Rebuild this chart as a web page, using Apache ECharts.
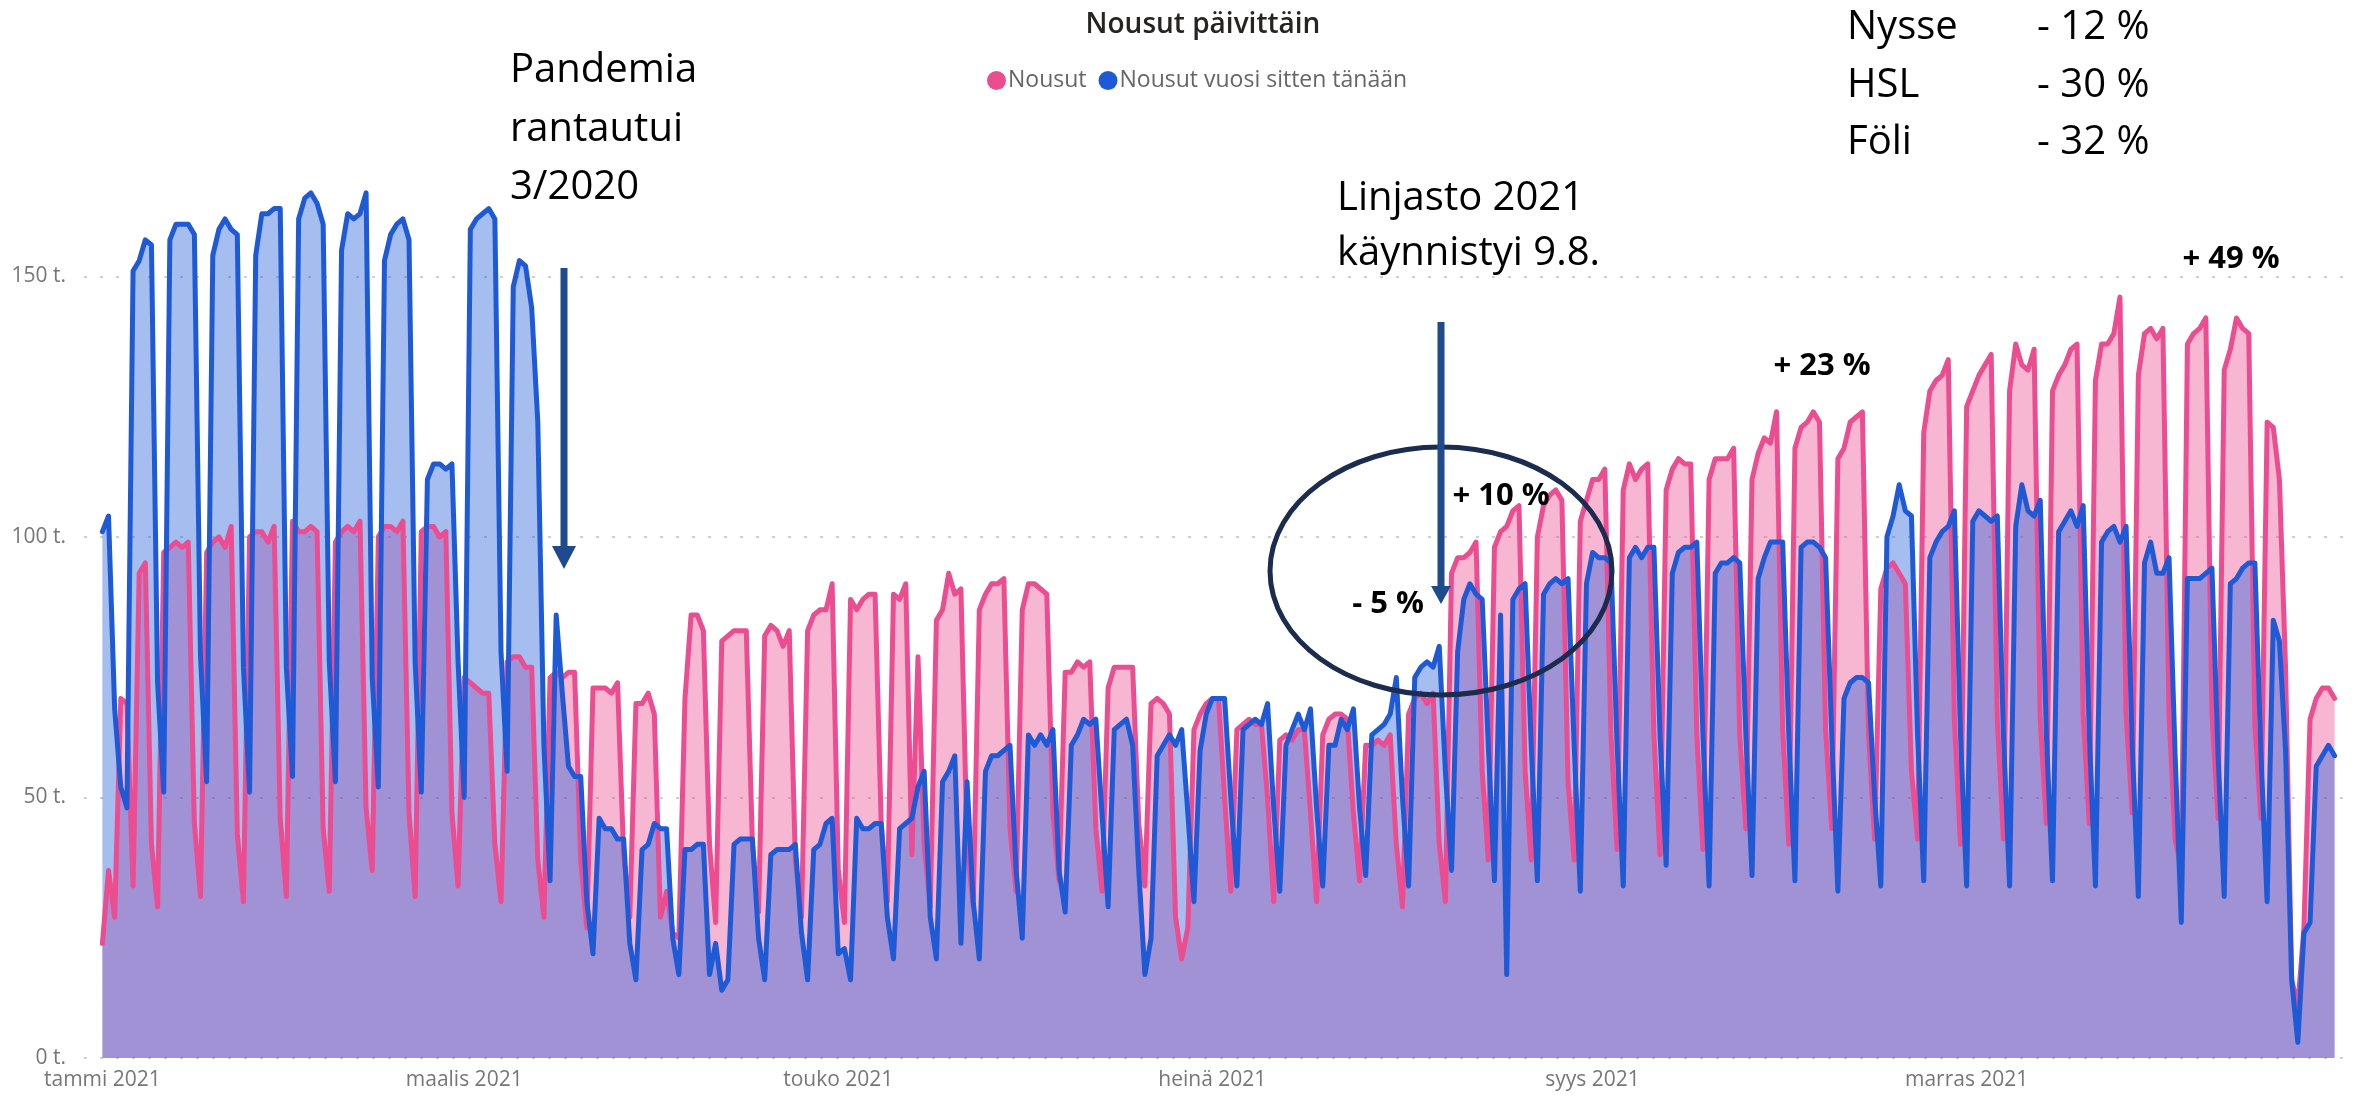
<!DOCTYPE html>
<html>
<head>
<meta charset="utf-8">
<title>Nousut päivittäin</title>
<script src="https://cdn.jsdelivr.net/npm/echarts@6/dist/echarts.min.js"></script>
<style>
  html, body { margin: 0; padding: 0; background: #fff; }
  #chart { width: 2366px; height: 1096px; }
</style>
</head>
<body>
<div id="chart"></div>
<script>
// daily boardings 2021, thousands (one value per day from 1.1.2021)
const nousut = [
  // tammi
  22,36,27,69,68,33,93,95,41,29, 97,98,99,98,99,45,31, 97,99,100,98,102,43,30, 100,101,101,99,102,46,31,
  // helmi
  103,101,101,102,101,44,32, 99,101,102,101,103,48,36, 100,102,102,101,103,47,31, 101,102,102,100,101,47,33,
  // maalis
  73,72,71,70,70,41,30, 76,77,77,75,75,38,27, 73,74,73,74,74,38,25, 71,71,71,70,72,39,27, 68,68,70,
  // huhti
  66,27,32,24,23,69,85,85,82,41,26, 80,81,82,82,82,41,28, 81,83,82,79,82,38,27, 82,85,86,86,91,
  // touko
  36,26,88,86,88,89,89,45,30, 89,88,91,39,77,41,29, 84,86,93,89,90,41,29, 86,89,91,91,92,44,32, 86,
  // kesä
  91,91,90,89,47,34, 74,74,76,75,76,44,32, 71,75,75,75,75,45,33, 68,69,68,66,27,19,25, 63,66,68,
  // heinä
  69,69,50,32, 63,64,65,64,64,50,30, 61,62,61,63,63,47,30, 62,65,66,66,65,47,34, 60,60,61,60,62,41,
  // elo
  29, 66,69,70,68,70,41,30, 93,96,96,97,99,55,38, 98,101,102,105,106,55,38, 100,106,108,109,107,53,38, 103,107,
  // syys
  111,111,113,62,40, 109,114,111,113,114,62,39, 109,113,115,114,114,62,40, 111,115,115,115,117,62,44, 111,116,119,118,
  // loka
  124,63,41, 117,121,122,124,122,63,44, 115,117,122,123,124,62,42, 90,94,95,93,91,55,42, 120,128,130,131,134,65,41,
  // marras
  125,128,131,133,135,65,42, 128,137,133,132,136,65,45, 128,131,133,136,137,66,45, 130,137,137,139,146,66,47, 131,139,
  // joulu
  140,138,140,66,42, 36,137,139,140,142,66,46, 132,136,142,140,139,64,46, 122,121,111,75,15,10,25, 65,69,71,71,69
];

// same day one year earlier, thousands
const vuosiSitten = [
  // tammi
  101,104,67,52,48,151,153,157,156,72,51, 157,160,160,160,158,77,53, 154,159,161,159,158,75,51, 154,162,162,163,163,75,
  // helmi
  54,161,165,166,164,160,76, 53,155,162,161,162,166,73, 52,153,158,160,161,157,76, 51,111,114,114,113,114,76,
  // maalis
  50,159,161,162,163,161,78, 55,148,153,152,144,122,60, 34,85,70,56,54,54,30, 20,46,44,44,42,42,22, 15,40,41,
  // huhti
  45,44,44,23,16, 40,40,41,41,16,22,13, 15,41,42,42,42,23,15, 39,40,40,40,41,24,15, 40,41,45,46,
  // touko
  20,21,15, 46,44,44,45,45,27,19, 44,45,46,52,55,27,19, 53,55,58,22,53,30,19, 55,58,58,59,60,36,23,
  // kesä
  62,60,62,60,63,36,28, 60,62,65,64,65,47,29, 63,64,65,60,36,16,23, 58,60,62,60,63,47,30, 59,66,
  // heinä
  69,69,69,50,33, 63,64,65,64,68,48,32, 60,63,66,63,67,48,33, 60,60,65,63,67,48,35, 62,63,64,66,73,
  // elo
  50,33, 73,75,76,75,79,55,36, 78,88,91,89,88,60,34, 85,16,88,90,91,60,34, 89,91,92,91,92,60,32, 91,
  // syys
  97,96,96,95,60,33, 96,98,96,98,98,62,37, 93,97,98,98,99,62,33, 93,95,95,96,95,62,35, 92,96,99,
  // loka
  99,99,62,34, 98,99,99,98,96,62,32, 69,72,73,73,72,50,33, 100,104,110,105,104,62,34, 96,99,101,102,105,62,
  // marras
  33, 103,105,104,103,104,62,33, 102,110,105,104,107,62,34, 101,103,105,102,106,62,33, 99,101,102,99,102,60,31, 95,
  // joulu
  99,93,93,96,58,26, 92,92,92,93,94,58,31, 91,92,94,95,95,58,30, 84,80,59,15,3,24,26, 56,58,60,58
];

const monthLabels = ['tammi 2021', 'maalis 2021', 'touko 2021', 'heinä 2021', 'syys 2021', 'marras 2021'];
const labelMonths = [0, 2, 4, 6, 8, 10];
const yTicks = [0, 50, 100, 150];

const PINK = '#EC4C90';
const BLUE = '#1F5AD6';
const FONT = '"Open Sans", "Noto Sans", sans-serif';

const day0 = Date.UTC(2021, 0, 1);
const monthStarts = labelMonths.map(m => (Date.UTC(2021, m, 1) - day0) / 864e5);
const pairs = arr => arr.map((v, i) => [i, v]);

const chart = echarts.init(document.getElementById('chart'));

function txt(text, x, y, size, opts) {
  opts = opts || {};
  return {
    type: 'text', z: 110,
    style: {
      text: text, x: x, y: y,
      font: (opts.weight ? opts.weight + ' ' : '') + size + 'px ' + FONT,
      fill: opts.color || '#000',
      textAlign: opts.align || 'left', align: opts.align || 'left',
      textVerticalAlign: 'middle', verticalAlign: 'middle'
    }
  };
}

function arrow(x, y1, y2, head) {
  return [
    { type: 'line', z: 105, shape: { x1: x, y1: y1, x2: x, y2: y2 - head.h + 2 },
      style: { stroke: '#1F4A8C', lineWidth: 7 } },
    { type: 'polygon', z: 105,
      shape: { points: [[x - head.w / 2, y2 - head.h], [x + head.w / 2, y2 - head.h], [x, y2]] },
      style: { fill: '#1F4A8C' } }
  ];
}

const option = {
  animation: false,
  backgroundColor: '#fff',
  legend: {
    left: 982, top: 64,
    itemWidth: 19, itemHeight: 19, itemGap: 12,
    icon: 'circle',
    data: ['Nousut', 'Nousut vuosi sitten tänään'],
    textStyle: { fontFamily: FONT, fontSize: 23, color: '#666', padding: [0, 0, 0, -3] }
  },
  grid: { left: 84, right: 13, top: 146, bottom: 38 },
  xAxis: {
    type: 'value',
    min: -3, max: 367,
    axisLine: { show: false },
    axisTick: { show: false },
    splitLine: { show: false },
    axisLabel: {
      customValues: monthStarts,
      formatter: v => monthLabels[monthStarts.indexOf(v)] || '',
      fontFamily: FONT, fontSize: 21, color: '#777', margin: 12
    }
  },
  yAxis: {
    type: 'value',
    min: 0, max: 175, interval: 50,
    axisLine: { show: false },
    axisTick: { show: false },
    axisLabel: {
      formatter: v => (yTicks.indexOf(v) >= 0 ? v + ' t.' : ''),
      showMaxLabel: false,
      fontFamily: FONT, fontSize: 21, color: '#777', margin: 18
    },
    splitLine: {
      show: true, showMaxLine: false,
      lineStyle: { color: '#cfcfcf', width: 2, type: [3, 13] }
    }
  },
  series: [
    { name: 'Nousut', type: 'line', data: pairs(nousut), symbol: 'none', silent: true, z: 1,
      itemStyle: { color: PINK }, lineStyle: { width: 0, opacity: 0 },
      areaStyle: { color: PINK, opacity: 0.4 } },
    { name: 'Nousut vuosi sitten tänään', type: 'line', data: pairs(vuosiSitten), symbol: 'none', silent: true, z: 1,
      itemStyle: { color: BLUE }, lineStyle: { width: 0, opacity: 0 },
      areaStyle: { color: BLUE, opacity: 0.4 } },
    { name: 'Nousut', type: 'line', data: pairs(nousut), symbol: 'none', z: 3,
      itemStyle: { color: PINK }, lineStyle: { width: 5, color: PINK, join: 'round', cap: 'round' } },
    { name: 'Nousut vuosi sitten tänään', type: 'line', data: pairs(vuosiSitten), symbol: 'none', z: 3,
      itemStyle: { color: BLUE }, lineStyle: { width: 5, color: BLUE, join: 'round', cap: 'round' } }
  ],
  graphic: [
    txt('Nousut päivittäin', 1203, 25, 28, { align: 'center', color: '#252423', weight: 600 }),

    txt('Pandemia', 510, 71, 40),
    txt('rantautui', 510, 130, 40),
    txt('3/2020', 510, 188, 40),
    ...arrow(564, 268, 569, { w: 24, h: 23 }),

    txt('Linjasto 2021', 1337, 199, 40),
    txt('käynnistyi 9.8.', 1337, 254, 40),
    ...arrow(1441, 322, 604, { w: 20, h: 18 }),
    { type: 'ellipse', z: 104, shape: { cx: 1441, cy: 571, rx: 171, ry: 124 },
      style: { fill: null, stroke: '#1B2C4E', lineWidth: 5 } },
    txt('+ 10 %', 1501, 496, 31, { weight: 'bold', align: 'center' }),
    txt('- 5 %', 1388, 604, 31, { weight: 'bold', align: 'center' }),
    txt('+ 23 %', 1822, 366, 31, { weight: 'bold', align: 'center' }),
    txt('+ 49 %', 2231, 259, 31, { weight: 'bold', align: 'center' }),

    txt('Nysse', 1847, 28, 40),
    txt('- 12 %', 2037, 28, 40),
    txt('HSL', 1847, 86, 40),
    txt('- 30 %', 2037, 86, 40),
    txt('Föli', 1847, 143, 40),
    txt('- 32 %', 2037, 143, 40)
  ]
};

chart.setOption(option);
</script>
</body>
</html>
